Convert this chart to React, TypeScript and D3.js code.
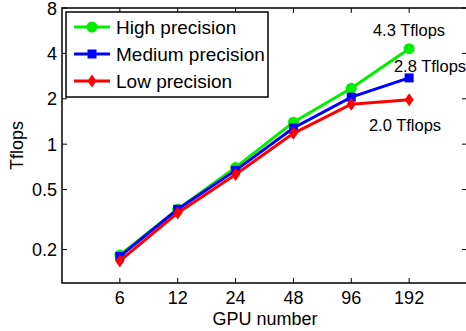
import React from "react";
import * as d3 from "d3";

const gpus = [6, 12, 24, 48, 96, 192];
const yTicks = [0.2, 0.5, 1, 2, 4, 8];
const highPrecision = [0.184, 0.37, 0.7, 1.4, 2.35, 4.3];
const mediumPrecision = [0.18, 0.37, 0.67, 1.28, 2.05, 2.75];
const lowPrecision = [0.168, 0.35, 0.63, 1.18, 1.84, 1.97];
const seriesNames = ["High precision", "Medium precision", "Low precision"];
const annotations = ["4.3 Tflops", "2.8 Tflops", "2.0 Tflops"];

const W = 466, H = 331;
const L = 62, R = 467, T = 8, B = 283;
const FONT = "Liberation Sans, Arial, sans-serif";

export default function App() {
  const x = d3.scaleLog().domain([3, 384]).range([L, R]);
  const y = d3.scaleLog().domain([0.12, 8]).range([B, T]);
  const series = [
    { name: seriesNames[0], values: highPrecision, color: "#00ee00", marker: "circle" },
    { name: seriesNames[1], values: mediumPrecision, color: "#0000ff", marker: "square" },
    { name: seriesNames[2], values: lowPrecision, color: "#ff0000", marker: "diamond" },
  ];
  const line = d3.line<[number, number]>().x(d => x(d[0])).y(d => y(d[1]));
  const marker = (type: string, cx: number, cy: number, color: string, key: any) => {
    if (type === "circle") return <circle key={key} cx={cx} cy={cy} r={5.5} fill={color} />;
    if (type === "square") return <rect key={key} x={cx - 4.5} y={cy - 4.5} width={9} height={9} fill={color} />;
    return <path key={key} d={`M${cx},${cy - 6.5}L${cx + 4.5},${cy}L${cx},${cy + 6.5}L${cx - 4.5},${cy}Z`} fill={color} />;
  };
  const tk = 5;
  return (
    <svg width={W} height={H} style={{ position: "absolute", left: 0, top: 0, background: "#fff" }} fontFamily={FONT}>
      <rect x={0} y={0} width={W} height={H} fill="#fff" />
      {gpus.map(g => (
        <g key={"xt" + g}>
          <line x1={x(g)} x2={x(g)} y1={B} y2={B - tk} stroke="#000" strokeWidth={1} />
          <line x1={x(g)} x2={x(g)} y1={T} y2={T + tk} stroke="#000" strokeWidth={1} />
          <text x={x(g)} y={B + 21} fontSize={18} textAnchor="middle" fill="#000">{g}</text>
        </g>
      ))}
      {yTicks.map(v => (
        <g key={"yt" + v}>
          <line x1={L} x2={L + tk} y1={y(v)} y2={y(v)} stroke="#000" strokeWidth={1} />
          <line x1={R} x2={R - tk} y1={y(v)} y2={y(v)} stroke="#000" strokeWidth={1} />
          <text x={L - 5} y={y(v) + 6.5} fontSize={18} textAnchor="end" fill="#000">{v}</text>
        </g>
      ))}
      <rect x={L} y={T} width={R - L} height={B - T} fill="none" stroke="#000" strokeWidth={1.5} />
      {series.map((s, i) => (
        <g key={s.name}>
          <path d={line(gpus.map((g, j) => [g, s.values[j]]) as [number, number][]) || ""} fill="none" stroke={s.color} strokeWidth={3} />
          {gpus.map((g, j) => marker(s.marker, x(g), y(s.values[j]), s.color, j))}
        </g>
      ))}
      <text x={409} y={36} fontSize={16.5} textAnchor="middle" fill="#000">{annotations[0]}</text>
      <text x={430} y={72} fontSize={16.5} textAnchor="middle" fill="#000">{annotations[1]}</text>
      <text x={405} y={131} fontSize={16.5} textAnchor="middle" fill="#000">{annotations[2]}</text>
      <rect x={66} y={12} width={202} height={85} fill="#fff" stroke="#000" strokeWidth={1.5} />
      {series.map((s, i) => {
        const ly = 27 + i * 27;
        return (
          <g key={"lg" + i}>
            <line x1={74} x2={110} y1={ly} y2={ly} stroke={s.color} strokeWidth={3} />
            {marker(s.marker, 92, ly, s.color, "m")}
            <text x={116} y={ly + 6.5} fontSize={19} fill="#000">{s.name}</text>
          </g>
        );
      })}
      <text transform={`translate(23,${(T + B) / 2}) rotate(-90)`} fontSize={18} textAnchor="middle" fill="#000">Tflops</text>
      <text x={265} y={325} fontSize={18} textAnchor="middle" fill="#000">GPU number</text>
    </svg>
  );
}
